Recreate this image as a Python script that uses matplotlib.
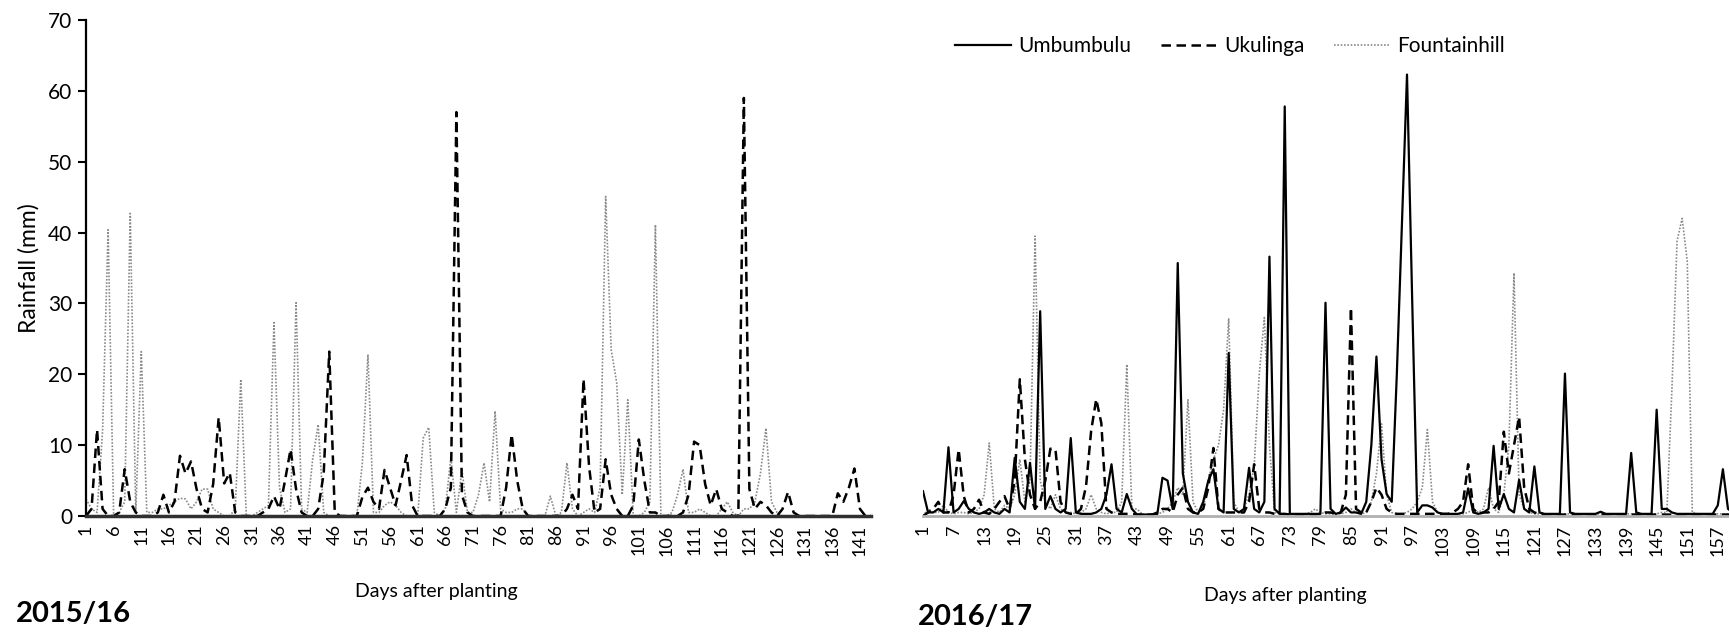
import numpy as np
import matplotlib
matplotlib.use("Agg")
import matplotlib.pyplot as plt

plt.rcParams['font.family'] = ['Lato', 'DejaVu Sans']

# daily rainfall (mm), 2015/16 season, days 1..143
uku15 = [0, 1, 12.2, 1, 0, 0, 0.5, 6.6, 2, 0.5,
         0, 0, 0, 0.5, 3, 0.5, 2, 8.5, 6, 7.7,
         3.8, 1, 0.5, 4.5, 13.9, 4.6, 6.1, 0.5, 0, 0,
         0, 0, 0.5, 1, 2.8, 1, 5, 9.4, 3.8, 0.5,
         0, 0, 1, 6, 23.2, 0.5, 0, 0, 0, 0,
         2.7, 4, 2, 1, 6.5, 4, 1.5, 5, 8.6, 1.5,
         0, 0, 0, 0, 0, 1, 4, 57, 3, 0.5,
         0, 0, 0, 0, 0, 0, 4, 11.5, 5, 1,
         0, 0, 0, 0, 0, 0, 0, 1, 3, 1,
         19.3, 7, 0.5, 1, 8, 3, 1, 0, 0, 1.5,
         10.8, 5, 0.5, 0.5, 0, 0, 0, 0, 0.5, 3,
         10.5, 10, 4.5, 1.5, 3.8, 1, 0.5, 0, 0, 59,
         3.8, 1, 2, 1.5, 0.5, 0, 1, 3.4, 0.5, 0,
         0, 0, 0, 0, 0, 0, 3.2, 2, 4, 6.7,
         1, 0, 0]
fh15 = [2.4, 1, 0.5, 12, 40.4, 0, 0.5, 2, 42.7, 0.5,
        23.2, 0.5, 0.5, 1, 1, 1.5, 2, 2.5, 2.4, 1,
        2, 3.8, 3.8, 1, 0.5, 0, 0, 1, 19.3, 0,
        0, 0.5, 1, 1.5, 27.3, 4, 0.5, 1, 30.1, 1,
        0.5, 8, 12.9, 0.5, 0, 0, 0, 0, 0, 0,
        7.6, 22.8, 0.5, 0.5, 1.5, 2, 1.5, 0.5, 0, 0,
        0, 11, 12.5, 0.5, 0, 1, 8.3, 0.5, 6.5, 0.5,
        0.5, 3, 7.5, 2, 14.8, 1, 0.5, 0.5, 1, 1,
        0, 0, 0, 0, 2.8, 0, 0.5, 7.5, 1, 0,
        0.5, 1, 0.5, 4, 45.1, 23.5, 18.8, 3, 16.4, 0,
        0, 0.5, 2, 41.1, 0, 0, 0.5, 3, 6.6, 0.5,
        0.5, 1, 0.5, 0, 0, 1, 2, 0.5, 0, 1,
        1, 2, 6, 12.4, 2, 0.5, 0, 0, 0, 0,
        0, 0, 0, 0, 0, 0, 0, 0, 0, 0,
        0, 0, 0]

# daily rainfall (mm), 2016/17 season, days 1..160
umb16 = [3.5, 0.5, 0.5, 1, 0.5, 9.7, 0.5, 1, 2.1, 1,
         0.5, 0.3, 0.5, 1, 0.5, 0.3, 1, 0.5, 8.2, 2,
         1, 7.5, 1, 28.9, 1, 2.8, 1, 0.5, 1, 11,
         0.5, 0.3, 0.3, 0.3, 0.5, 1, 3, 7.3, 1, 0.5,
         3.1, 1, 0.2, 0.2, 0.2, 0.2, 0.3, 5.4, 5, 1,
         35.7, 6, 2, 0.5, 0.3, 2, 5, 6.6, 1, 0.5,
         23, 1, 0.5, 1, 6.8, 1, 0.5, 2, 36.6, 1,
         0.3, 57.8, 0.3, 0.3, 0.3, 0.3, 0.3, 0.3, 0.3, 30.1,
         1, 0.3, 0.5, 1.2, 0.5, 0.5, 0.3, 2, 10, 22.5,
         8, 3.1, 2, 20, 41, 62.3, 31, 0.5, 1.5, 1.5,
         1.2, 0.5, 0.3, 0.3, 0.3, 0.3, 0.5, 3.9, 0.5, 0.3,
         0.5, 1, 9.9, 1, 3.1, 1, 0.5, 5.1, 1, 0.5,
         7, 0.5, 0.3, 0.3, 0.3, 0.3, 20.1, 0.5, 0.3, 0.3,
         0.3, 0.3, 0.3, 0.6, 0.3, 0.3, 0.3, 0.3, 0.3, 8.9,
         0.5, 0.3, 0.3, 0.3, 15, 1, 1, 0.5, 0.3, 0.3,
         0.3, 0.3, 0.3, 0.3, 0.3, 0.3, 1.5, 6.6, 1, 0.5]
uku16 = [0, 0.5, 1, 2, 0.5, 0.5, 3, 9.4, 2.8, 0.5,
         1, 2.3, 0.5, 0.3, 1, 2, 2.8, 1, 5, 19.3,
         8, 3, 1, 2, 5, 9.5, 9.4, 2, 0.5, 0.3,
         0.3, 1, 4.2, 12, 16.5, 13.1, 1, 0.5, 0.3, 0.3,
         0.3, 0.3, 0.2, 0.2, 0.2, 0.2, 0.5, 1, 1, 0.5,
         3, 4, 1, 0.5, 0.5, 1, 4, 9.6, 1, 0.5,
         0.5, 0.5, 0.5, 0.5, 2, 7.3, 1, 0.5, 0.5, 0.3,
         0.3, 0.3, 0.2, 0.2, 0.2, 0.2, 0.2, 0.2, 0.3, 0.5,
         0.5, 0.3, 0.5, 3, 29.4, 1, 0.5, 0.5, 2, 4,
         3, 1, 0.5, 0.3, 0.3, 0.3, 0.3, 0.3, 0.3, 0.3,
         0.3, 0.3, 0.3, 0.3, 0.5, 1, 2, 7.3, 1, 0.3,
         0.5, 0.5, 1, 2, 11.9, 6, 10, 14, 4, 1,
         0.5, 0.3, 0.2, 0.2, 0.2, 0.2, 0.2, 0.2, 0.2, 0.2,
         0.2, 0.2, 0.2, 0.2, 0.2, 0.2, 0.2, 0.2, 0.2, 0.2,
         0.2, 0.2, 0.2, 0.2, 0.2, 0.2, 0.2, 0.2, 0.2, 0.2,
         0.2, 0.2, 0.2, 0.2, 0.2, 0.2, 0.2, 0.2, 0.2, 0.2]
fh16 = [0, 1, 0.5, 0.5, 1.5, 0.5, 0.3, 0.5, 0.5, 0.3,
        0.5, 1, 3, 10.3, 1, 0.5, 1.5, 1, 3, 8,
        2, 5, 39.5, 5, 2, 1, 3, 1, 0.5, 0.5,
        0.3, 0.5, 1, 3, 1, 0.5, 0.3, 0.5, 0.5, 2,
        21.4, 1, 1, 0.3, 0.3, 0.3, 0.3, 0.5, 1, 2,
        4, 3, 16.4, 2, 0.5, 1, 5, 8, 10, 15,
        27.9, 2, 0.5, 1, 3, 7, 20, 28, 10, 0.5,
        0.3, 0.3, 0.3, 0.3, 0.3, 0.3, 0.5, 1, 0.5, 0.3,
        0.3, 0.3, 0.3, 0.5, 1, 0.5, 0.3, 0.5, 2, 6,
        13, 3, 0.5, 0.3, 0.3, 0.5, 1, 2, 4, 12.2,
        2, 0.5, 0.3, 0.3, 0.3, 0.3, 0.3, 0.5, 1, 0.5,
        1, 4, 1, 0.5, 3, 10, 34.3, 3, 1, 0.5,
        0.3, 0.3, 0.3, 0.3, 0.3, 0.3, 0.3, 0.3, 0.3, 0.3,
        0.3, 0.3, 0.3, 0.3, 0.3, 0.3, 0.3, 0.3, 0.3, 0.3,
        0.3, 0.3, 0.3, 0.3, 0.3, 0.5, 0.5, 18, 38.8, 42,
        36, 0.5, 0.3, 0.3, 0.3, 0.3, 0.3, 0.3, 0.3, 0.3]

series_names = ["Umbumbulu", "Ukulinga", "Fountainhill"]
ticks15 = list(range(1, 142, 5))
ticks16 = list(range(1, 158, 6))

W, H = 1729, 636
fig = plt.figure(figsize=(W / 100, H / 100), dpi=100)

def px_axes(x0, x1, y_top, y_bot):
    return fig.add_axes([x0 / W, 1 - y_bot / H, (x1 - x0) / W, (y_bot - y_top) / H])

ax1 = px_axes(86, 871, 20, 516)
ax2 = px_axes(923, 1729, 20, 516)

style_umb = dict(color='black', lw=1.6, ls='-')
style_uku = dict(color='black', lw=1.8, ls=(0, (3.8, 2.2)))
style_fh = dict(color='#8a8a8a', lw=1.2, ls=(0, (1, 1)))

d15 = np.arange(1, len(uku15) + 1)
ax1.plot(d15, fh15, **style_fh)
ax1.plot(d15, uku15, **style_uku)

d16 = np.arange(1, len(umb16) + 1)
ax2.plot(d16, fh16, label=series_names[2], **style_fh)
ax2.plot(d16, uku16, label=series_names[1], **style_uku)
ax2.plot(d16, umb16, label=series_names[0], **style_umb)

for ax in (ax1, ax2):
    ax.set_ylim(0, 70)
    ax.spines['top'].set_visible(False)
    ax.spines['right'].set_visible(False)
    ax.tick_params(axis='x', length=0, labelsize=13, rotation=90, pad=6)

ax1.set_xlim(1, len(uku15))
ax1.set_xticks(ticks15)
ax1.set_xticklabels([str(t) for t in ticks15])
ax1.set_yticks(range(0, 71, 10))
ax1.tick_params(axis='y', length=6, width=1.5, labelsize=15, pad=4)
ax1.spines['left'].set_linewidth(1.6)
ax1.spines['bottom'].set_linewidth(2.5)
ax1.spines['bottom'].set_color('#303030')
ax1.set_ylabel("Rainfall (mm)", fontsize=16.5, labelpad=6)

ax2.set_xlim(1, 159.2)
ax2.set_xticks(ticks16)
ax2.set_xticklabels([str(t) for t in ticks16])
ax2.spines['left'].set_visible(False)
ax2.spines['bottom'].set_linewidth(2)
ax2.spines['bottom'].set_color('#b0b0b0')
ax2.set_yticks([])

handles, labels = ax2.get_legend_handles_labels()
order = [2, 1, 0]
ax2.legend([handles[i] for i in order], [labels[i] for i in order],
           loc='center', bbox_to_anchor=(0.381, 0.948), ncol=3, frameon=False,
           fontsize=15, handlelength=2.7, columnspacing=1.4, handletextpad=0.35)

fig.text(436 / W, 1 - 592 / H, "Days after planting", fontsize=14, ha='center', va='center')
fig.text(1285 / W, 1 - 595 / H, "Days after planting", fontsize=14, ha='center', va='center')
fig.text(16 / W, 1 - 614 / H, "2015/16", fontsize=21, fontweight='bold', ha='left', va='center')
fig.text(918 / W, 1 - 617 / H, "2016/17", fontsize=21, fontweight='bold', ha='left', va='center')

fig.savefig("out.png", dpi=100)
